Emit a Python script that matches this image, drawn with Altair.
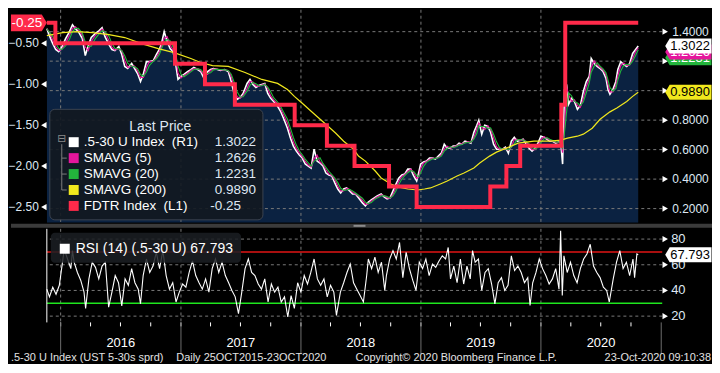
import altair as alt
import pandas as pd

FONT = "Liberation Sans"

# ---------------- data ----------------
spread_dates = [
    "2015-11-20", "2015-11-29", "2015-12-08", "2015-12-17", "2015-12-26",
    "2016-01-04", "2016-01-16", "2016-01-28", "2016-02-06", "2016-02-15", "2016-02-24", "2016-03-07", "2016-03-16",
    "2016-03-25", "2016-04-03", "2016-04-15", "2016-04-27", "2016-05-06", "2016-05-15", "2016-05-27", "2016-06-05",
    "2016-06-14", "2016-06-26", "2016-07-05", "2016-07-14", "2016-07-23", "2016-08-04", "2016-08-13", "2016-08-22",
    "2016-08-31", "2016-09-09", "2016-09-18", "2016-09-27", "2016-10-09", "2016-10-18", "2016-10-27", "2016-11-02",
    "2016-11-11", "2016-11-20", "2016-11-29", "2016-12-08", "2016-12-17", "2016-12-23",
    "2017-01-01", "2017-01-10", "2017-01-22", "2017-01-31", "2017-02-09", "2017-02-21", "2017-03-02", "2017-03-11",
    "2017-03-23", "2017-04-01", "2017-04-10", "2017-04-22", "2017-05-01", "2017-05-13", "2017-05-25", "2017-06-03",
    "2017-06-12", "2017-06-21", "2017-06-30", "2017-07-09", "2017-07-21", "2017-07-30", "2017-08-08", "2017-08-17",
    "2017-08-26", "2017-09-04", "2017-09-13", "2017-09-22", "2017-10-01", "2017-10-10", "2017-10-22", "2017-10-31",
    "2017-11-09", "2017-11-21", "2017-11-30", "2017-12-09", "2017-12-18", "2017-12-27",
    "2018-01-05", "2018-01-14", "2018-01-23", "2018-02-01", "2018-02-10", "2018-02-19", "2018-02-28", "2018-03-09",
    "2018-03-18", "2018-03-27", "2018-04-05", "2018-04-14", "2018-04-23", "2018-05-02", "2018-05-11", "2018-05-20",
    "2018-05-29", "2018-06-07", "2018-06-16", "2018-06-25", "2018-07-07", "2018-07-16", "2018-07-25", "2018-08-03",
    "2018-08-12", "2018-08-21", "2018-09-02", "2018-09-11", "2018-09-20", "2018-09-29", "2018-10-08", "2018-10-17",
    "2018-10-26", "2018-11-04", "2018-11-13", "2018-11-22", "2018-12-01", "2018-12-10", "2018-12-19", "2018-12-25",
    "2018-12-31",
    "2019-01-09", "2019-01-18", "2019-01-27", "2019-02-05", "2019-02-14", "2019-02-23", "2019-03-04", "2019-03-13",
    "2019-03-22", "2019-03-31", "2019-04-09", "2019-04-18", "2019-04-27", "2019-05-06", "2019-05-15", "2019-05-24",
    "2019-06-02", "2019-06-11", "2019-06-20", "2019-06-26", "2019-07-05", "2019-07-14", "2019-07-23", "2019-08-01",
    "2019-08-10", "2019-08-19", "2019-08-28", "2019-09-06", "2019-09-15", "2019-09-24", "2019-10-03", "2019-10-12",
    "2019-10-21", "2019-10-30", "2019-11-08", "2019-11-17", "2019-11-26", "2019-12-05", "2019-12-14", "2019-12-23",
    "2020-01-01", "2020-01-10", "2020-01-19", "2020-01-28", "2020-02-06", "2020-02-15", "2020-02-24", "2020-03-01",
    "2020-03-07", "2020-03-13", "2020-03-19", "2020-03-25", "2020-04-03", "2020-04-12", "2020-04-21", "2020-04-30",
    "2020-05-09", "2020-05-18", "2020-05-27", "2020-06-02", "2020-06-11", "2020-06-20", "2020-06-29", "2020-07-08",
    "2020-07-17", "2020-07-23", "2020-07-29", "2020-08-07", "2020-08-16", "2020-08-22", "2020-08-31", "2020-09-09",
    "2020-09-18", "2020-09-27", "2020-10-06", "2020-10-15", "2020-10-23"]
spread_vals = [
    1.420, 1.366, 1.319, 1.279, 1.265,
    1.292, 1.353, 1.400, 1.447, 1.420, 1.400, 1.353, 1.238, 1.306, 1.360, 1.387, 1.407, 1.427, 1.366, 1.312, 1.279,
    1.272, 1.299, 1.245, 1.164, 1.150, 1.184, 1.150, 1.116, 1.062, 1.116, 1.197, 1.197, 1.204, 1.245, 1.279, 1.312,
    1.400, 1.333, 1.285, 1.265, 1.164, 1.076,
    1.096, 1.110, 1.130, 1.143, 1.157, 1.143, 1.130, 1.089, 1.130, 1.143, 1.150, 1.143, 1.137, 1.143, 1.130, 1.062,
    0.975, 0.941, 0.954, 0.981, 1.049, 1.076, 1.042, 1.022, 1.035, 1.042, 1.049, 0.981, 0.948, 0.927, 0.894, 0.860,
    0.813, 0.745, 0.678, 0.624, 0.590, 0.563,
    0.543, 0.502, 0.489, 0.475, 0.603, 0.522, 0.509, 0.489, 0.441, 0.428, 0.421, 0.374, 0.333, 0.306, 0.333, 0.340,
    0.320, 0.299, 0.299, 0.273, 0.239, 0.219, 0.245, 0.259, 0.273, 0.286, 0.299, 0.279, 0.266, 0.273, 0.320, 0.367,
    0.408, 0.428, 0.435, 0.468, 0.468, 0.421, 0.387, 0.441, 0.502,
    0.516, 0.522, 0.543, 0.543, 0.536, 0.556, 0.576, 0.637, 0.610, 0.610, 0.624, 0.624, 0.644, 0.637, 0.657, 0.651,
    0.644, 0.718, 0.765, 0.799, 0.705, 0.765, 0.759, 0.718, 0.637, 0.603, 0.603, 0.603, 0.617, 0.576, 0.657, 0.684,
    0.657, 0.664, 0.671, 0.637, 0.610, 0.590, 0.610, 0.644,
    0.691, 0.684, 0.671, 0.657, 0.657, 0.644, 0.651, 0.657, 0.502, 1.008, 1.042, 0.907, 0.948, 0.927, 0.873, 0.900,
    0.995, 1.062, 1.096, 1.218, 1.184, 1.164, 1.150, 1.130, 1.083, 1.008, 0.975, 1.008, 1.062, 1.143, 1.197, 1.177,
    1.164, 1.184, 1.252, 1.279, 1.3022]

sma200_dates = [
    "2015-11-20", "2016-01-07", "2016-02-21", "2016-04-06", "2016-05-27", "2016-07-14", "2016-09-03", "2016-10-24",
    "2016-12-11", "2017-01-31", "2017-03-02", "2017-04-07", "2017-05-25", "2017-07-15", "2017-09-04", "2017-10-22",
    "2017-11-21", "2017-12-12", "2018-01-05", "2018-02-01", "2018-02-25", "2018-03-21", "2018-04-17", "2018-05-11",
    "2018-06-10", "2018-06-25", "2018-07-16", "2018-08-15", "2018-09-02", "2018-10-02", "2018-10-23", "2018-11-22",
    "2018-12-22", "2019-01-12", "2019-01-30", "2019-03-01", "2019-03-22", "2019-04-21", "2019-05-12", "2019-06-11",
    "2019-06-29", "2019-07-29", "2019-08-19", "2019-09-18", "2019-10-24", "2019-12-11", "2020-01-31", "2020-03-01",
    "2020-03-22", "2020-04-21", "2020-05-09", "2020-06-05", "2020-06-29", "2020-07-29", "2020-08-19", "2020-09-18",
    "2020-10-06", "2020-10-23"]
sma200_vals = [
    1.373, 1.393, 1.400, 1.393, 1.380, 1.360, 1.319, 1.285, 1.258, 1.218, 1.191, 1.170, 1.164, 1.123, 1.076, 1.049,
    1.008, 0.961, 0.914, 0.860, 0.813, 0.765, 0.711, 0.657, 0.603, 0.556, 0.522, 0.455, 0.408, 0.367, 0.347, 0.333,
    0.326, 0.333, 0.340, 0.367, 0.387, 0.421, 0.441, 0.475, 0.509, 0.556, 0.583, 0.610, 0.644, 0.657, 0.657, 0.664,
    0.678, 0.691, 0.705, 0.745, 0.806, 0.856, 0.883, 0.927, 0.961, 0.989]

fdtr_dates = ["2015-11-20", "2015-12-16", "2016-12-14", "2017-03-15", "2017-06-14", "2017-12-13", "2018-03-21",
              "2018-06-13", "2018-09-26", "2018-12-19", "2019-07-31", "2019-09-18", "2019-10-30", "2020-03-03",
              "2020-03-15", "2020-10-23"]
fdtr_vals = [-0.25, -0.50, -0.75, -1.00, -1.25, -1.50, -1.75, -2.00, -2.25, -2.50, -2.25, -2.00, -1.75, -1.25,
             -0.25, -0.25]

rsi_dates = [
    "2015-11-20", "2015-11-28", "2015-12-08", "2015-12-18", "2015-12-28", "2016-01-12", "2016-01-22", "2016-02-01",
    "2016-02-06", "2016-02-11", "2016-02-21", "2016-03-02", "2016-03-12", "2016-03-17", "2016-03-27", "2016-04-06",
    "2016-04-16", "2016-04-26", "2016-05-06", "2016-05-16", "2016-05-26", "2016-06-05", "2016-06-15", "2016-06-25",
    "2016-07-05", "2016-07-15", "2016-07-25", "2016-08-04", "2016-08-14", "2016-08-24", "2016-08-31", "2016-09-08",
    "2016-09-18", "2016-09-28", "2016-10-08", "2016-10-18", "2016-10-28", "2016-11-07", "2016-11-17", "2016-11-27",
    "2016-12-07", "2016-12-17", "2016-12-27", "2017-01-06", "2017-01-16", "2017-01-26", "2017-02-05", "2017-02-15",
    "2017-02-25", "2017-03-07", "2017-03-17", "2017-03-27", "2017-04-06", "2017-04-16", "2017-04-26", "2017-05-06",
    "2017-05-16", "2017-05-26", "2017-06-05", "2017-06-15", "2017-06-25", "2017-07-05", "2017-07-15", "2017-07-25",
    "2017-08-04", "2017-08-14", "2017-08-24", "2017-09-03", "2017-09-13", "2017-09-23", "2017-10-03", "2017-10-13",
    "2017-10-23", "2017-11-02", "2017-11-12", "2017-11-22", "2017-12-02", "2017-12-12", "2017-12-22", "2018-01-01",
    "2018-01-11", "2018-01-21", "2018-01-31", "2018-02-10", "2018-02-20", "2018-03-02", "2018-03-12", "2018-03-22",
    "2018-04-01", "2018-04-11", "2018-04-19", "2018-05-01", "2018-05-11", "2018-05-21", "2018-05-31", "2018-06-10",
    "2018-06-20", "2018-06-30", "2018-07-10", "2018-07-20", "2018-07-25", "2018-08-04", "2018-08-14", "2018-08-24",
    "2018-09-03", "2018-09-13", "2018-09-18", "2018-09-28", "2018-10-08", "2018-10-18", "2018-10-28", "2018-11-07",
    "2018-11-17", "2018-11-27", "2018-12-07", "2018-12-17", "2018-12-27", "2019-01-06", "2019-01-16", "2019-01-26",
    "2019-02-05", "2019-02-15", "2019-02-25", "2019-03-07", "2019-03-17", "2019-03-25", "2019-04-01", "2019-04-11",
    "2019-04-21", "2019-05-01", "2019-05-11", "2019-05-21", "2019-05-31", "2019-06-07", "2019-06-15", "2019-06-25",
    "2019-07-05", "2019-07-15", "2019-07-25", "2019-08-04", "2019-08-14", "2019-08-24", "2019-09-03", "2019-09-13",
    "2019-09-23", "2019-10-03", "2019-10-13", "2019-10-23", "2019-11-02", "2019-11-12", "2019-11-22", "2019-11-29",
    "2019-12-07", "2019-12-17", "2019-12-27", "2020-01-06", "2020-01-16", "2020-01-26", "2020-02-05", "2020-02-15",
    "2020-02-25", "2020-03-01", "2020-03-06", "2020-03-11", "2020-03-21", "2020-03-31", "2020-04-10", "2020-04-20",
    "2020-04-30", "2020-05-10", "2020-05-20", "2020-05-30", "2020-06-09", "2020-06-19", "2020-06-29", "2020-07-09",
    "2020-07-19", "2020-07-27", "2020-08-08", "2020-08-18", "2020-08-28", "2020-09-07", "2020-09-17", "2020-09-27",
    "2020-10-07", "2020-10-12", "2020-10-19", "2020-10-23"]
rsi_vals = [
    41, 35, 42.5, 37, 44, 72, 64.5, 57, 71, 62, 54, 48, 39, 26, 49, 62,
    58, 49, 59, 62, 27, 38.7, 51.6, 46, 28, 49, 44, 57, 46, 41, 29.6, 51.6,
    64.5, 54, 59, 69.7, 57, 71, 51.6, 41, 46, 31, 38.7, 45, 42.5, 54, 63, 51.6,
    46, 41, 49, 38.7, 57, 64.5, 54, 62, 51.6, 46, 40, 35, 22, 38.7, 57, 64.5,
    54, 51.6, 45, 41, 49, 31, 45, 38.7, 42.5, 31, 35, 19.3, 36, 26, 46, 38.7,
    51.6, 45, 54, 64.5, 49, 44, 49, 35, 44, 38.7, 20.6, 38.7, 46, 54, 60.6, 46,
    41, 36, 31, 51.6, 64.5, 57, 66, 54, 62, 40, 51.6, 64.5, 71, 64.5, 77.4, 50,
    69.7, 57, 48, 40, 62, 57, 64.5, 51.6, 60.6, 58, 63, 67, 64.5, 73.5, 49, 59,
    46, 64.5, 45, 59, 49, 71, 62, 64.5, 40, 54, 57, 45, 29.6, 46, 50, 40,
    44, 67, 55.5, 59, 54, 46, 50, 28.3, 46, 54, 64.5, 57, 51.6, 45, 49, 57,
    41, 86.5, 36, 67, 54, 62, 51.6, 46, 57, 64.5, 68.4, 76, 59, 54, 50, 42.5,
    40, 31, 49, 62, 71, 57, 62, 51.6, 64.5, 50, 68.4, 67.793]

year_starts = ["2016-01-01", "2017-01-01", "2018-01-01", "2019-01-01", "2020-01-01", "2021-01-01"]
label_years = [2016, 2017, 2018, 2019, 2020]
spread_ticks = [0.2, 0.3, 0.4, 0.5, 0.6, 0.7, 0.8, 0.9, 1.0, 1.1, 1.2, 1.3, 1.4, 1.5]
spread_grid = [0.2, 0.4, 0.6, 0.8, 1.0, 1.2, 1.4]
spread_labels = [0.2, 0.4, 0.6, 0.8, 1.4]          # 1.0 and 1.2 sit under the value tags
fdtr_ticks = [-0.25, -0.5, -0.75, -1.0, -1.25, -1.5, -1.75, -2.0, -2.25, -2.5]
fdtr_labels = [-0.5, -1.0, -1.5, -2.0, -2.5]
rsi_ticks = [20, 30, 40, 50, 60, 70, 80]
rsi_labels = [20, 40, 60, 80]

legend_names = [".5-30 U Index\u00a0\u00a0(R1)", "SMAVG (5)", "SMAVG (20)", "SMAVG (200)", "FDTR Index\u00a0\u00a0(L1)"]
legend_vals = ["1.3022", "1.2626", "1.2231", "0.9890", "-0.25"]
last_spread, last_sma5, last_sma20, last_sma200, last_fdtr, last_rsi = 1.3022, 1.2626, 1.2231, 0.9890, -0.25, 67.793

# ---------------- styling ----------------
W, H, RH = 618, 214, 94
NAVY = "#0b2241"
GRID = "#7a7a7a"
WHITE = "#ffffff"
MAGENTA = "#e5169c"
GREEN = "#23b43c"
YELLOW = "#f1e81d"
RED = "#ff2a4a"
LBL = "#dfe8f3"
legend_colors = [WHITE, MAGENTA, GREEN, YELLOW, RED]

TAG_R = "M0,0L0.3,-0.5L3.1,-0.5L3.1,0.5L0.3,0.5Z"
TAG_L = "M0,0L-0.3,-0.5L-2.12,-0.5L-2.12,0.5L-0.3,0.5Z"

one = pd.DataFrame({"k": [0]})

xs = alt.Scale(domain=[alt.DateTime(year=2015, month=11, date=20, utc=True),
                       alt.DateTime(year=2021, month=1, date=4, utc=True)])
X = alt.X("date:T", scale=xs, axis=None)


def text_at(txt, x, y, size=13, color=LBL, align="left", font=FONT):
    return alt.Chart(one).mark_text(text=txt, align=align, baseline="middle", fontSize=size,
                                    color=color, font=font).encode(x=alt.value(x), y=alt.value(y))


def rule_at(x, x2, y, y2, color, width=1):
    return alt.Chart(one).mark_rule(color=color, strokeWidth=width).encode(
        x=alt.value(x), x2=alt.value(x2), y=alt.value(y), y2=alt.value(y2))


def right_tag(value, txt, fill, tcolor, scale):
    d = pd.DataFrame({"v": [value], "t": [txt]})
    base = alt.Chart(d).encode(y=alt.Y("v:Q", scale=scale, axis=None))
    sym = base.mark_point(shape=TAG_R, size=900, filled=True, color=fill, opacity=1,
                          strokeWidth=0).encode(x=alt.value(W + 3))
    lab = base.mark_text(fontSize=13, color=tcolor, font=FONT, align="center",
                         baseline="middle").encode(x=alt.value(W + 3 + 25), text="t:N")
    return sym + lab


def axis_labels(values, scale, fmt, x, align, size=12):
    """tick labels of a value axis, placed through the axis' own scale"""
    d = pd.DataFrame({"v": values})
    return alt.Chart(d).mark_text(align=align, baseline="middle", fontSize=size, font=FONT,
                                  color=LBL).encode(
        x=alt.value(x), y=alt.Y("v:Q", scale=scale, axis=None), text=alt.Text("v:Q", format=fmt))


def triangles(values, scale, x, shape):
    return alt.Chart(pd.DataFrame({"g": values})).mark_point(
        shape=shape, size=40, filled=True, color=WHITE, opacity=1).encode(
        x=alt.value(x), y=alt.Y("g:Q", scale=scale, axis=None))


# ---------------- top panel ----------------
spread = pd.DataFrame({"date": spread_dates, "value": spread_vals})
spread["sma5"] = spread["value"].rolling(2, min_periods=1).mean()
spread["sma20"] = spread["value"].rolling(3, min_periods=1).mean()
sma200 = pd.DataFrame({"date": sma200_dates, "sma": sma200_vals})
fdtr = pd.DataFrame({"date": fdtr_dates, "rate": fdtr_vals})

YS_MIN, YS_MAX = 0.1034, 1.5486
ys = alt.Scale(domain=[YS_MIN, YS_MAX], zero=False, nice=False)
yf = alt.Scale(domain=[-2.693, -0.090], zero=False, nice=False)

right_axis = alt.Axis(orient="right", values=spread_ticks, title=None, grid=False, labels=False,
                      tickSize=3, domainColor=WHITE, tickColor=WHITE)
left_axis = alt.Axis(orient="left", values=fdtr_ticks, title=None, grid=False, labels=False,
                     tickSize=3, domainColor=WHITE, tickColor=WHITE)

area = alt.Chart(spread).mark_area(color=NAVY, opacity=1, clip=True).encode(
    x=X, y=alt.Y("value:Q", scale=ys, axis=None), y2=alt.datum(YS_MIN))
grid_h = alt.Chart(pd.DataFrame({"g": spread_grid})).mark_rule(
    color=GRID, strokeDash=[3, 3], strokeWidth=1).encode(y=alt.Y("g:Q", scale=ys, axis=None))
grid_v = alt.Chart(pd.DataFrame({"d": year_starts[:-1]})).mark_rule(
    color=GRID, strokeDash=[3, 3], strokeWidth=1).encode(x=alt.X("d:T", scale=xs, axis=None))
l_white = alt.Chart(spread).mark_line(color=WHITE, strokeWidth=1.6).encode(
    x=X, y=alt.Y("value:Q", scale=ys, axis=right_axis))
l_mag = alt.Chart(spread).mark_line(color=MAGENTA, strokeWidth=1.2).encode(
    x=X, y=alt.Y("sma5:Q", scale=ys, axis=None))
l_grn = alt.Chart(spread).mark_line(color=GREEN, strokeWidth=1.1).encode(
    x=X, y=alt.Y("sma20:Q", scale=ys, axis=None))
l_yel = alt.Chart(sma200).mark_line(color=YELLOW, strokeWidth=1.2).encode(
    x=X, y=alt.Y("sma:Q", scale=ys, axis=None))

layer_a = alt.layer(
    area, grid_h, grid_v, l_white, l_mag, l_grn, l_yel,
    axis_labels(spread_labels, ys, ".4f", W + 10, "left"),
    triangles(spread_grid, ys, W + 3, "triangle-right"),
    right_tag(last_sma20, "1.2231", GREEN, WHITE, ys),
    right_tag(last_sma5, "1.2626", MAGENTA, WHITE, ys),
    right_tag(last_spread, "1.3022", WHITE, "#000000", ys),
    right_tag(last_sma200, "0.9890", YELLOW, "#000000", ys),
)

l_fdtr = alt.Chart(fdtr).mark_line(color=RED, strokeWidth=4, interpolate="step-after").encode(
    x=X, y=alt.Y("rate:Q", scale=yf, axis=left_axis))
ltag_d = pd.DataFrame({"v": [last_fdtr], "t": ["-0.25"]})
ltag_sym = alt.Chart(ltag_d).mark_point(shape=TAG_L, size=1156, filled=True, color=RED, opacity=1,
                                        strokeWidth=0).encode(
    x=alt.value(0), y=alt.Y("v:Q", scale=yf, axis=None))
ltag_txt = alt.Chart(ltag_d).mark_text(fontSize=13.5, color=WHITE, font=FONT, align="center",
                                       baseline="middle").encode(
    x=alt.value(-20), y=alt.Y("v:Q", scale=yf, axis=None), text="t:N")
layer_b = alt.layer(
    l_fdtr,
    axis_labels(fdtr_labels, yf, ".2f", -8, "right"),
    triangles(fdtr_labels, yf, -3, "triangle-left"),
    ltag_sym, ltag_txt)

leg = pd.DataFrame({"row": list(range(5)), "name": legend_names, "val": legend_vals, "col": legend_colors})
rowY = alt.Y("row:Q", scale=alt.Scale(domain=[0, 4], range=[133, 197]), axis=None)
leg_box = alt.Chart(one).mark_rect(fill="#121820", fillOpacity=0.9, stroke="#3c4450", strokeWidth=1,
                                   cornerRadius=5).encode(
    x=alt.value(3), x2=alt.value(217), y=alt.value(100), y2=alt.value(211))
leg_sq = alt.Chart(leg).mark_square(size=100, opacity=1).encode(
    x=alt.value(27), y=rowY, color=alt.Color("col:N", scale=None))
leg_name = alt.Chart(leg).mark_text(align="left", baseline="middle", fontSize=13.5, font=FONT,
                                    color=WHITE).encode(x=alt.value(37), y=rowY, text="name:N")
leg_val = alt.Chart(leg).transform_filter("datum.row < 4").mark_text(
    align="right", baseline="middle", fontSize=13.5, font=FONT, color=LBL).encode(
    x=alt.value(210), y=rowY, text="val:N")
leg_val2 = alt.Chart(leg).transform_filter("datum.row == 4").mark_text(
    align="right", baseline="middle", fontSize=13.5, font=FONT, color=LBL).encode(
    x=alt.value(195), y=rowY, text="val:N")
layer_c = alt.layer(
    leg_box,
    text_at("Last Price", 114, 118, size=14, color=LBL, align="center"),
    text_at("\u229f", 15, 130, size=11, color="#8a8a8a", align="center", font="DejaVu Sans"),
    rule_at(15, 15, 135, 181, "#7d7d7d"),
    rule_at(15, 20, 149, 149, "#7d7d7d"),
    rule_at(15, 20, 165, 165, "#7d7d7d"),
    rule_at(15, 20, 181, 181, "#7d7d7d"),
    leg_sq, leg_name, leg_val, leg_val2,
)

top = alt.layer(layer_a, layer_b, layer_c).resolve_scale(y="independent").properties(width=W, height=H)

# ---------------- RSI panel ----------------
rsi = pd.DataFrame({"date": rsi_dates, "rsi": rsi_vals})
yr = alt.Scale(domain=[15.1, 88], zero=False, nice=False)
rsi_axis = alt.Axis(orient="right", values=rsi_ticks, title=None, grid=False, labels=False,
                    tickSize=3, domainColor=WHITE, tickColor=WHITE)
x_axis = alt.Axis(values=[alt.DateTime(year=y, month=7, date=2, utc=True) for y in label_years],
                  format="%Y", tickSize=0, labels=False, title=None, grid=False, domainColor=WHITE)
years_df = pd.DataFrame({"d": [f"{y}-07-02" for y in label_years]})
year_lbl = alt.Chart(years_df).mark_text(fontSize=13, font=FONT, color=WHITE, baseline="middle").encode(
    x=alt.X("d:T", scale=xs, axis=None), y=alt.value(RH + 21), text=alt.Text("d:T", format="%Y"))

r_grid_h = alt.Chart(pd.DataFrame({"g": rsi_labels})).mark_rule(
    color=GRID, strokeDash=[3, 3], strokeWidth=1).encode(y=alt.Y("g:Q", scale=yr, axis=None))
r_grid_v = alt.Chart(pd.DataFrame({"d": year_starts[:-1]})).mark_rule(
    color=GRID, strokeDash=[3, 3], strokeWidth=1).encode(x=alt.X("d:T", scale=xs, axis=None))
r70 = alt.Chart(pd.DataFrame({"g": [70]})).mark_rule(color="#e01515", strokeWidth=1.4).encode(
    y=alt.Y("g:Q", scale=yr, axis=None))
r30 = alt.Chart(pd.DataFrame({"g": [30]})).mark_rule(color="#1ee61e", strokeWidth=1.6).encode(
    y=alt.Y("g:Q", scale=yr, axis=None))
r_line = alt.Chart(rsi).mark_line(color=WHITE, strokeWidth=1.1).encode(
    x=alt.X("date:T", scale=xs, axis=x_axis), y=alt.Y("rsi:Q", scale=yr, axis=rsi_axis))
r_box = alt.Chart(one).mark_rect(fill="#1b1e23", fillOpacity=0.85, cornerRadius=4).encode(
    x=alt.value(4), x2=alt.value(195), y=alt.value(4), y2=alt.value(34))
r_sq = alt.Chart(one).mark_square(size=100, color=WHITE, opacity=1).encode(x=alt.value(18), y=alt.value(20))
quarters = pd.DataFrame({"d": [d.strftime("%Y-%m-%d") for d in pd.date_range("2016-01-01", "2020-10-01", freq="QS")]})
q_ticks = alt.Chart(quarters).mark_rule(color=WHITE, strokeWidth=1).encode(
    x=alt.X("d:T", scale=xs, axis=None), y=alt.value(RH), y2=alt.value(RH + 4))
y_sep = alt.Chart(pd.DataFrame({"d": year_starts})).mark_rule(color="#6e6e6e", strokeWidth=1).encode(
    x=alt.X("d:T", scale=xs, axis=None), y=alt.value(RH), y2=alt.value(RH + 32))
sep_bar = alt.Chart(one).mark_rect(color="#3b3b3b").encode(
    x=alt.value(-36), x2=alt.value(668), y=alt.value(-5), y2=alt.value(-1))
sep_handle = alt.Chart(one).mark_rect(color="#8c8c8c").encode(
    x=alt.value(308), x2=alt.value(320), y=alt.value(-4), y2=alt.value(-2))

FOOT = "#e2e2e2"
rsi_panel = alt.layer(
    r_grid_h, r_grid_v, r70, r30, r_line, r_box, r_sq,
    text_at("RSI (14) (.5-30 U) 67.793", 29, 20, size=14, color=WHITE),
    rule_at(0, 0, 0, RH, WHITE),
    axis_labels(rsi_labels, yr, "d", W + 9, "left", size=13),
    triangles(rsi_labels, yr, W + 3, "triangle-right"),
    right_tag(last_rsi, "67.793", WHITE, "#000000", yr),
    q_ticks, y_sep, year_lbl, sep_bar, sep_handle,
    text_at(".5-30 U Index (UST 5-30s sprd)", -36, 130, size=11, color=FOOT),
    text_at("Daily 25OCT2015-23OCT2020", 130, 130, size=11, color=FOOT),
    text_at("Copyright\u00a9 2020 Bloomberg Finance L.P.", 310, 130, size=11, color=FOOT),
    text_at("23-Oct-2020 09:10:38", 667, 130, size=11, color=FOOT, align="right"),
).properties(width=W, height=RH)

chart = alt.vconcat(top, rsi_panel, spacing=0).properties(
    background="#000000", padding=0
).configure_view(stroke=None)

chart.save("out.html", embed_options={"renderer": "svg", "actions": False})
